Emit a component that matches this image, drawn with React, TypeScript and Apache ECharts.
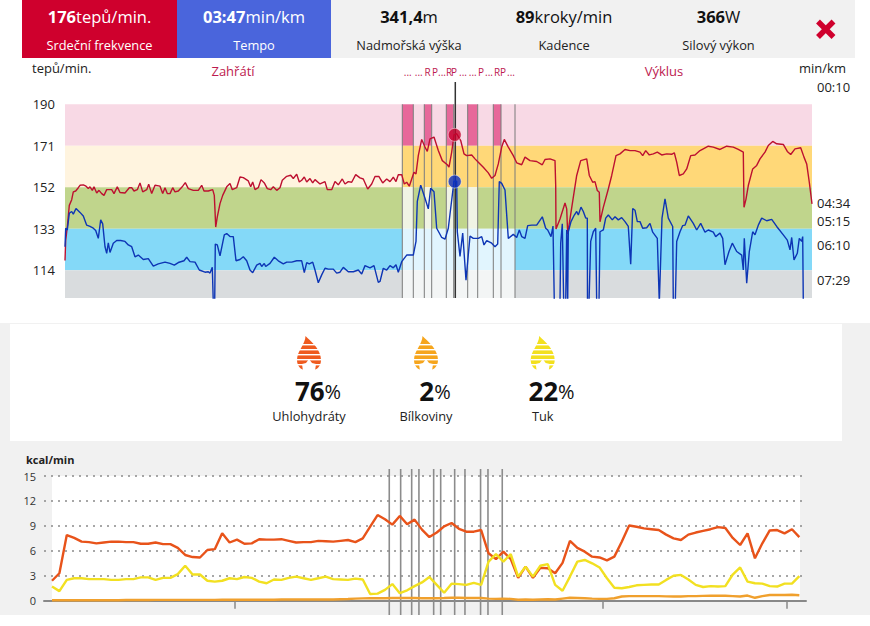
import React, { useEffect, useRef } from "react";
import * as echarts from "echarts";

const FONT = "Open Sans";

// ---------- upper chart ----------
const hrTicks = [190, 171, 152, 133, 114];
const paceTicks = [10, 274, 315, 370, 449];
const zoneLimits = [190, 171, 152, 133, 114, 101.3];
const lapEdges = [337.3, 348.3, 359.3, 366.7, 381.3, 388.7, 402.7, 412.7, 428.3, 436, 450];
const lapLabels = ["...", "...", "R", "P", "...", "R", "P", "...", "...", "P", "...", "R", "P", "..."];
const lapLabelX = [407.7, 418.7, 427.7, 435, 442, 449, 454, 463, 472.7, 481, 489, 497, 503, 511];
const cursorTime = 390.3;
const cursorHr = 176;
const cursorPace = 225;

const heartRate: number[][] = [
  [0, 118.5], [0.7, 127.7], [2.3, 133.8], [4.3, 143.7], [6.7, 146.3], [8.3, 149.9], [10.7, 150.3], [13.3, 151.8], [15, 152.9], [18.3, 153.1],
  [21, 152.5], [23.3, 151.4], [25, 152.2], [27.3, 150.6], [29, 152.2], [31.7, 149.4], [34, 150.6], [36.7, 149.1], [39, 148.3], [41.7, 150.9],
  [46.7, 150.9], [49, 149.1], [52.3, 152.2], [55, 149.6], [60, 149.4], [64.3, 151.8], [66.7, 151.8], [69, 150.3], [72.3, 150.9], [75, 154],
  [77.7, 149.9], [81.7, 150.9], [83.7, 153.4], [86.7, 149.1], [90, 152.9], [95, 152.5], [97.7, 149.1], [100, 151.8], [102.3, 149.1], [105, 149.1],
  [107.7, 151.8], [110, 149.9], [113.3, 150.3], [117.7, 152.5], [120.3, 154.1], [123.3, 151.4], [128.3, 150.6], [133.3, 150.6], [136.7, 152.9], [139, 150.3],
  [143.3, 150.3], [147.7, 150.9], [149.3, 148.3], [150, 141.4], [150.7, 133.8], [152.3, 138.4], [155, 144.5], [157.7, 148.3], [161.7, 152.2], [165, 153.7],
  [167.3, 150.9], [171.7, 151.8], [175, 156.7], [178.3, 156.4], [183.3, 154.9], [185.7, 152.2], [187.7, 154.4], [190, 150.9], [193.3, 151.8], [196, 155.5],
  [199.3, 154], [202.3, 151.4], [205.7, 150.9], [208.3, 152.2], [211.7, 150.6], [215, 151.8], [217.3, 155.2], [221.7, 157], [225.7, 157.5], [228.3, 156],
  [231.7, 158], [234.3, 154.4], [236.7, 155.2], [239.3, 156.7], [241.7, 154.4], [245, 156], [247.7, 154], [250, 155.5], [255, 153.5], [260, 154.6],
  [262.3, 150.9], [266.7, 150.9], [270, 154.6], [273.3, 153.1], [277.3, 155.8], [280, 153.5], [283.3, 154.6], [286.7, 154.3], [290.7, 157.8], [295, 156.3],
  [298.3, 155.8], [302.7, 151.2], [306.7, 153.5], [310, 156.9], [314, 156.9], [317.7, 154], [321.7, 155.8], [325, 154.6], [328.3, 156.6], [331, 154.6],
  [333.3, 157.7], [336.7, 157.8], [339.3, 153.5], [341.7, 154.3], [344.3, 152.5], [346.7, 155.8], [349, 158.9], [351, 158.1], [353.3, 166.5], [356.7, 173.9],
  [360, 170.4], [362.3, 168.4], [365, 174.2], [369, 175], [373.3, 168.8], [377.3, 164.2], [382.3, 162.3], [384, 161.2], [386.7, 168.1], [389, 176],
  [391.7, 176.5], [395.7, 173.4], [399, 167.3], [401.7, 166.5], [406.7, 166.8], [410, 165], [413.3, 163.5], [418.3, 161.2], [423.3, 158.6], [426.7, 156.1],
  [430, 157.4], [433.3, 162.7], [436.7, 170.4], [439.3, 173.9], [443.3, 170.4], [448.3, 166.5], [451.7, 163.2], [456.7, 162.3], [460, 165.8], [465, 164.2],
  [471.7, 163.8], [477.3, 162.3], [480, 164.7], [485, 165], [490, 164.2], [490.7, 152.8], [491, 132.9], [495, 137.5], [500, 144.8], [501.7, 142.1],
  [502.7, 130.6], [505, 137.5], [508.3, 147.4], [511.7, 157.4], [515.7, 164.2], [521.7, 165], [524.3, 157.4], [527.7, 154.3], [530, 154.6], [532.3, 150.5],
  [534.3, 149.7], [535, 136.2], [538.3, 142.8], [543.3, 151.2], [546.7, 157.4], [551, 166.5], [555, 167.3], [560, 169.3], [565, 168.8], [570, 168.8],
  [575, 168.1], [577.7, 166.5], [580.7, 168.8], [584.3, 166.8], [588.3, 167.3], [592.3, 168.1], [596.7, 166.8], [601.7, 167.3], [606.7, 167.1], [609.3, 167.8],
  [611.7, 163.5], [614.3, 157.4], [618.3, 158.1], [621.7, 160.4], [625.7, 166.5], [630, 166.8], [635, 168.8], [638.3, 169.6], [643.3, 170.8], [648.3, 170.4],
  [655, 169.3], [661.7, 170.8], [668.3, 170.4], [673.3, 169.3], [678.3, 168.1], [679, 142.8], [681, 146.6], [683.3, 152.8], [687.7, 160.4], [691.7, 162],
  [695, 165], [700, 168.1], [703.3, 171.1], [707.7, 173], [711.7, 171.9], [718.3, 171.6], [722.3, 168.4], [725.7, 167], [730, 169.6], [735.7, 170.1],
  [739, 165.8], [741.7, 162.7], [744.3, 154.3], [747, 144.4],
];

const pace: number[][] = [
  [0, 373], [0.7, 331], [2.3, 335], [4.3, 297], [6.7, 293], [8.3, 299], [11, 286], [15, 295], [18.3, 303], [21.7, 324],
  [25, 327], [28.3, 331], [30.7, 336], [33.3, 354], [35.7, 312], [37.7, 321], [40, 373], [41.7, 388], [43.3, 364], [45, 386],
  [48.3, 365], [51.7, 359], [55.7, 359], [60, 361], [63.3, 369], [66.7, 373], [70, 396], [73.3, 392], [78.3, 402], [83.3, 400],
  [88.3, 417], [93.3, 412], [100, 408], [105, 411], [109.3, 415], [113.3, 409], [119, 405], [121.7, 397], [125, 407], [130, 408],
  [134.3, 426], [140, 431], [143.3, 430], [145, 433], [147.3, 420], [148.3, 500], [149.7, 500], [150.3, 367], [152.3, 369], [155, 394],
  [159.3, 346], [161.7, 343], [165, 350], [168.3, 350], [171, 405], [175, 402], [178.3, 396], [181.7, 405], [185, 426], [187.7, 432],
  [191.7, 415], [195, 411], [196.7, 418], [199.3, 411], [200.7, 418], [205, 411], [209.3, 397], [213.3, 405], [218.3, 412], [221.7, 408],
  [226.7, 408], [231.7, 405], [236.7, 405], [239.3, 432], [241.7, 409], [244.3, 412], [247.7, 408], [250, 426], [253.3, 455], [256.7, 437],
  [260, 422], [263.3, 424], [268.3, 424], [271.7, 433], [275, 431], [278.3, 420], [283.3, 430], [288.3, 430], [293.3, 426], [296.7, 435],
  [300, 416], [305, 421], [309, 416], [313.3, 454], [315, 452], [318.3, 422], [321.7, 426], [325, 416], [328.3, 421], [331, 414],
  [333.3, 431], [336.7, 407], [341.7, 392], [348.3, 392], [351, 361], [352.3, 270], [355.7, 233], [360, 263], [363.3, 287], [365.7, 240],
  [369, 248], [371.7, 331], [376.7, 352], [380, 356], [383.3, 331], [387.7, 248], [389, 224], [391.7, 224], [392.3, 339], [395, 395],
  [397.7, 342], [401, 449], [405, 349], [408.3, 354], [413.3, 354], [416.7, 350], [419, 369], [421.7, 359], [426.7, 365], [430, 373],
  [432.7, 367], [434.3, 225], [436.7, 229], [440, 244], [443.3, 354], [448.3, 345], [451.7, 352], [454.3, 335], [456.7, 350], [460, 354],
  [462.7, 325], [466.7, 324], [471.7, 324], [477.3, 305], [480.7, 331], [482.7, 335], [486, 350], [488, 326], [489.3, 500], [495, 500],
  [495.7, 365], [497.3, 321], [498.7, 500], [500.7, 500], [501.7, 335], [502.7, 500], [503.3, 339], [506, 316], [509.3, 301], [511.7, 293],
  [513.3, 301], [516, 283], [518.3, 293], [520.7, 308], [522.3, 308], [522.5, 500], [524, 500], [525.7, 361], [528.3, 339], [530.7, 331],
  [531.7, 500], [534, 500], [535, 339], [538.3, 335], [540.7, 308], [543.3, 301], [547.3, 312], [550, 305], [553.3, 312], [556.7, 307],
  [560, 316], [563.3, 327], [565.7, 413], [567.7, 286], [570, 290], [572.3, 316], [575, 316], [577.7, 331], [581.7, 330], [585, 320],
  [587.7, 340], [592.3, 354], [594.3, 500], [595, 500], [597, 308], [600, 264], [603.3, 308], [607.7, 327], [608.3, 500], [610.3, 500],
  [611.7, 361], [615, 339], [617.7, 325], [620, 324], [623.3, 303], [628.3, 320], [631.7, 335], [635.7, 320], [640, 340], [643.3, 335],
  [648.3, 340], [650.7, 350], [655, 342], [657.7, 354], [660, 414], [664, 384], [667.3, 365], [671.7, 384], [676.7, 392], [678.3, 426],
  [679.3, 354], [681.7, 456], [684.3, 384], [687.7, 339], [690, 346], [693.3, 324], [696.7, 308], [701.7, 314], [706.7, 311], [711.7, 327],
  [718.3, 346], [722.3, 358], [725, 380], [726.7, 352], [729, 403], [732.3, 388], [734.3, 354], [736.7, 361], [737.7, 350], [738.3, 500],
];

// ---------- lower chart ----------
const carbs = [
  2.4, 3.3, 7.9, 7.55, 7.1, 7.05, 6.9, 7, 7.1, 7.1, 7.05, 7.05, 6.85, 6.85, 7, 6.8, 6.8, 6.35, 5.5, 5.25,
  5.2, 6.1, 6.2, 8.1, 7, 7.35, 6.85, 6.9, 7.4, 7.35, 7.35, 7.4, 7.2, 7, 7.05, 7.05, 7.2, 7.15, 7.1, 7.2,
  7.3, 7.05, 7.5, 8.9, 10.3, 9.8, 9.15, 10.2, 9.2, 9.75, 8.55, 7.65, 8.2, 8.95, 9.35, 8.65, 8.3, 8.3, 8.5, 5.7,
  5, 5.9, 5, 2.75, 4.1, 2.75, 3.95, 3.9, 3.3, 4.55, 7.2, 6.35, 5.9, 5.3, 5.2, 4.85, 5.3, 7.1, 9.05, 8.9,
  8.7, 8.6, 8.5, 7.95, 7.5, 7.3, 7.95, 8.2, 8.4, 8.6, 8.85, 8.75, 7.55, 6.7, 8.1, 5.1, 6.9, 8.45, 8.5, 8.1,
  8.6, 7.65,
];
const fat = [
  1.7, 1.15, 2.5, 2.7, 2.7, 2.6, 2.6, 2.6, 2.5, 2.5, 2.6, 2.6, 2.8, 2.8, 2.5, 2.75, 2.75, 3.2, 4.2, 3.15,
  3.15, 2.4, 2.3, 2.4, 2.7, 2.6, 2.85, 2.75, 2.3, 2.1, 2.55, 2.5, 2.75, 2.9, 2.7, 2.5, 2.7, 2.9, 2.6, 2.55,
  2.5, 2.65, 2.55, 0.8, 0.85, 1.3, 2, 0.9, 1.25, 1.75, 2.2, 2.85, 1.9, 0.95, 2.05, 2, 1.9, 2.15, 1.9, 4.7,
  5.6, 4.7, 5.6, 2.9, 4.1, 2.9, 4.2, 4.4, 1.9, 1.2, 2.9, 4.7, 4.9, 4.5, 4, 2.7, 1.55, 1.5, 1.65, 1.85,
  1.9, 1.95, 1.95, 2.5, 3, 3.1, 2.55, 1.9, 1.65, 1.75, 1.7, 1.75, 3.15, 4, 2.3, 2.1, 2.05, 1.75, 1.7, 2.05,
  2.05, 2.95,
];
const protein = [
  0.05, 0.05, 0.05, 0.05, 0.05, 0.05, 0.05, 0.05, 0.05, 0.05, 0.08, 0.08, 0.08, 0.08, 0.1, 0.1, 0.1, 0.1, 0.1, 0.1,
  0.1, 0.1, 0.1, 0.12, 0.12, 0.12, 0.12, 0.12, 0.12, 0.12, 0.12, 0.14, 0.14, 0.14, 0.15, 0.15, 0.15, 0.15, 0.15, 0.18,
  0.2, 0.25, 0.28, 0.3, 0.3, 0.3, 0.32, 0.32, 0.32, 0.32, 0.3, 0.3, 0.3, 0.32, 0.35, 0.35, 0.33, 0.33, 0.33, 0.25,
  0.22, 0.25, 0.22, 0.12, 0.15, 0.12, 0.15, 0.17, 0.15, 0.25, 0.35, 0.33, 0.3, 0.25, 0.22, 0.22, 0.3, 0.5, 0.55, 0.55,
  0.55, 0.55, 0.55, 0.52, 0.5, 0.5, 0.55, 0.55, 0.58, 0.6, 0.6, 0.6, 0.55, 0.5, 0.62, 0.35, 0.55, 0.68, 0.68, 0.68,
  0.72, 0.66,
];
const kcalTicks = [24.7, 74.46, 99.3];
const kcalLapEdges = [45.58, 47.12, 48.61, 49.59, 51.58, 52.53, 54.42, 55.81, 57.92, 58.92, 60.85];

// ---------- header and macros ----------
const headerValues = ["176", "03:47", "341,4", "89", "366"];
const headerUnits = ["tepů/min.", "min/km", "m", "kroky/min", "W"];
const headerLabels = ["Srdeční frekvence", "Tempo", "Nadmořská výška", "Kadence", "Silový výkon"];
const macroValues = ["76", "2", "22"];
const macroLabels = ["Uhlohydráty", "Bílkoviny", "Tuk"];

const RED = "#cf002d";
const BLUE = "#4a65dc";
const PINK = "#f8d9e5";
const PINK_DARK = "#e7689a";
const CREAM = "#fff4df";
const ORANGE = "#ffd878";
const GREEN = "#c0d58c";
const GREEN_LIGHT = "#f0f4e4";
const SKY = "#84d9f8";
const SKY_LIGHT = "#e1f5fe";
const GREY = "#d9dcde";
const GREY_LIGHT = "#f3f5f5";
const CRIMSON = "#bd1a4f";

const XMAX = 747;
const segEdges = [0, ...lapEdges, XMAX];

function zoneFill(zone: number, seg: number) {
  const lap = seg - 1; // -1 before the laps, 10 after them
  const inLaps = lap >= 0 && lap < 10;
  const fast = inLaps && lap % 2 === 0;
  if (zone === 0) return fast ? PINK_DARK : PINK;
  if (zone === 1) return lap < 0 ? CREAM : ORANGE;
  if (zone === 2) return fast && lap <= 6 ? GREEN_LIGHT : GREEN;
  if (zone === 3) return inLaps ? SKY_LIGHT : SKY;
  return inLaps ? GREY_LIGHT : GREY;
}

const bandRows: number[][] = [];
const bandFills: string[] = [];
for (let z = 0; z < 5; z++) {
  for (let s = 0; s < segEdges.length - 1; s++) {
    bandRows.push([segEdges[s], segEdges[s + 1], zoneLimits[z], zoneLimits[z + 1]]);
    bandFills.push(zoneFill(z, s));
  }
}

const mmss = (v: number) => {
  const m = Math.floor(v / 60);
  const s = Math.round(v - m * 60);
  return `${String(m).padStart(2, "0")}:${String(s).padStart(2, "0")}`;
};

function txt(x: number, y: number, text: string, size: number, color: string, align = "center", weight: any = "normal") {
  return {
    type: "text",
    x,
    y,
    z: 5,
    silent: true,
    style: {
      text,
      fill: color,
      fontFamily: FONT,
      fontSize: size,
      fontWeight: weight,
      textAlign: align,
      textVerticalAlign: "middle",
    },
  };
}

function rect(x: number, y: number, w: number, h: number, fill: string) {
  return { type: "rect", z: 0, silent: true, shape: { x, y, width: w, height: h }, style: { fill } };
}

function rich(x: number, y: number, value: string, unit: string, color: string, sv: number, su: number) {
  return {
    type: "text",
    x,
    y,
    z: 5,
    silent: true,
    style: {
      text: `{a|${value}}{b|${unit}}`,
      textAlign: "center",
      textVerticalAlign: "middle",
      rich: {
        a: { fontFamily: FONT, fontSize: sv, fontWeight: "bold", fill: color, color },
        b: { fontFamily: FONT, fontSize: su, fill: color, color },
      },
    },
  };
}

function flame(x: number, y: number, color: string) {
  const stripes = [8, 13, 18, 23, 28].map((sy) => ({
    type: "rect",
    silent: true,
    z: 3,
    shape: { x: 0, y: sy, width: 25, height: 1.4 },
    style: { fill: "#ffffff" },
  }));
  return {
    type: "group",
    x,
    y,
    children: [
      { type: "flameShape", silent: true, z: 2, style: { fill: color } },
      ...stripes,
      {
        type: "polygon",
        silent: true,
        z: 3,
        shape: { points: [[12, 23], [15, 27], [19, 28], [18, 35], [6, 35], [5, 28], [9, 27]] },
        style: { fill: "#ffffff" },
      },
    ],
  };
}

export default function App() {
  const ref = useRef<HTMLDivElement>(null);
  useEffect(() => {
    document.body.style.margin = "0";
    echarts.graphic.registerShape(
      "flameShape",
      echarts.graphic.extendPath(
        "M8.5 0 L11 2.5 C15 6 24 14 24 24 C24 30 20 34 16 34 L8 34 C4 34 0 30 0 24 C0 15 8.5 8 8.5 0 Z",
        {},
      ),
    );
    const chart = echarts.init(ref.current!, undefined, { renderer: "svg" });

    const headerCenters = [99.5, 254, 409, 564, 718.5];
    const macroCenters = [309, 426, 542.7];
    const macroValueCenters = [318, 435, 551.5];
    const macroFlames = ["#ef5a1e", "#f6a51c", "#f3e01e"];
    const graphicEls: any[] = [
      rect(22, 0, 833, 58, "#f1f1f1"),
      rect(22, 0, 155, 58, RED),
      rect(177, 0, 154, 58, BLUE),
      rect(0, 323, 870, 292, "#f1f1f1"),
      rect(10, 324, 832, 117, "#ffffff"),
      rect(52, 476, 748, 125, "#ffffff"),
      { type: "line", z: 5, silent: true, shape: { x1: 818, y1: 21.5, x2: 833.5, y2: 37 }, style: { stroke: RED, lineWidth: 5.5 } },
      { type: "line", z: 5, silent: true, shape: { x1: 833.5, y1: 21.5, x2: 818, y2: 37 }, style: { stroke: RED, lineWidth: 5.5 } },
      txt(32, 68, "tepů/min.", 13, "#222222", "left"),
      txt(799, 68, "min/km", 13, "#222222", "left"),
      txt(233, 70.5, "Zahřátí", 13, CRIMSON),
      txt(664, 70.5, "Výklus", 13, CRIMSON),
      txt(26, 459, "kcal/min", 11, "#222222", "left", "bold"),
    ];
    headerValues.forEach((v, i) => {
      const c = i < 2 ? "#ffffff" : "#111111";
      graphicEls.push(rich(headerCenters[i], 16, v, headerUnits[i], c, 16.5, 16.5));
      graphicEls.push(txt(headerCenters[i], 44.5, headerLabels[i], 12.8, i < 2 ? "#ffffff" : "#222222"));
    });
    lapLabels.forEach((t, i) => graphicEls.push(txt(lapLabelX[i], 71.5, t, 10, CRIMSON)));
    macroValues.forEach((v, i) => {
      graphicEls.push(flame(macroCenters[i] - 12, 336, macroFlames[i]));
      graphicEls.push(rich(macroValueCenters[i], 391, v, "%", "#111111", 26, 20));
      graphicEls.push(txt(macroCenters[i], 416, macroLabels[i], 12.8, "#222222"));
    });

    chart.setOption({
      animation: false,
      textStyle: { fontFamily: FONT },
      graphic: { elements: graphicEls },
      grid: [
        { left: 65, top: 82, width: XMAX, height: 216 },
        { left: 44, top: 476, width: 762, height: 124.7 },
      ],
      xAxis: [
        { type: "value", gridIndex: 0, min: 0, max: XMAX, show: false },
        {
          type: "value",
          gridIndex: 1,
          min: -1.08,
          max: 101.9,
          axisLine: { show: true, onZero: false, lineStyle: { color: "#888888", width: 2 } },
          axisTick: { show: true, customValues: kcalTicks, length: 8, lineStyle: { color: "#888888", width: 1.5 } },
          axisLabel: { show: false },
          splitLine: { show: false },
        },
      ],
      yAxis: [
        {
          type: "value",
          gridIndex: 0,
          min: 101.3,
          max: 200.2,
          axisLine: { show: false },
          axisTick: { show: false, customValues: hrTicks },
          splitLine: { show: false },
          axisLabel: { customValues: hrTicks, margin: 10, fontSize: 13, color: "#222222", fontFamily: FONT },
        },
        {
          type: "value",
          gridIndex: 0,
          position: "right",
          inverse: true,
          min: -1.4,
          max: 489.6,
          axisLine: { show: false },
          axisTick: { show: false, customValues: paceTicks },
          splitLine: { show: false },
          axisLabel: { customValues: paceTicks, margin: 5, fontSize: 13, color: "#222222", fontFamily: FONT, formatter: (v: number) => mmss(v) },
        },
        {
          type: "value",
          gridIndex: 1,
          min: 0,
          max: 15,
          interval: 3,
          axisLine: { show: false },
          axisTick: { show: false },
          axisLabel: { margin: 8, fontSize: 11, color: "#333333", fontFamily: FONT },
          splitLine: { show: true, lineStyle: { color: "#8a8a8a", width: 1.5, type: [2, 5] } },
        },
      ],
      series: [
        {
          type: "custom",
          xAxisIndex: 0,
          yAxisIndex: 0,
          z: 1,
          silent: true,
          data: bandRows,
          renderItem: (p: any, api: any) => {
            const a = api.coord([api.value(0), api.value(2)]);
            const b = api.coord([api.value(1), api.value(3)]);
            return {
              type: "rect",
              shape: { x: a[0], y: a[1], width: b[0] - a[0], height: b[1] - a[1] },
              style: { fill: bandFills[p.dataIndex], stroke: null },
            };
          },
        },
        {
          type: "custom",
          xAxisIndex: 0,
          yAxisIndex: 0,
          z: 2,
          silent: true,
          data: lapEdges.map((x) => [x]),
          renderItem: (_p: any, api: any) => {
            const a = api.coord([api.value(0), 190]);
            const b = api.coord([api.value(0), 101.3]);
            return { type: "line", shape: { x1: a[0], y1: a[1], x2: b[0], y2: b[1] }, style: { stroke: "#7a7a7a", lineWidth: 1 } };
          },
        },
        {
          type: "custom",
          xAxisIndex: 0,
          yAxisIndex: 0,
          z: 3,
          silent: true,
          data: [[cursorTime]],
          renderItem: (_p: any, api: any) => {
            const a = api.coord([api.value(0), 200.2]);
            const b = api.coord([api.value(0), 101.3]);
            return { type: "line", shape: { x1: a[0], y1: a[1], x2: b[0], y2: b[1] }, style: { stroke: "#333333", lineWidth: 1.5 } };
          },
        },
        {
          type: "line",
          name: "Srdeční frekvence",
          xAxisIndex: 0,
          yAxisIndex: 0,
          z: 4,
          data: heartRate,
          showSymbol: false,
          symbol: "none",
          lineStyle: { color: "#bd1030", width: 1.4 },
        },
        {
          type: "line",
          name: "Tempo",
          xAxisIndex: 0,
          yAxisIndex: 1,
          z: 4,
          data: pace,
          showSymbol: false,
          symbol: "none",
          clip: true,
          lineStyle: { color: "#0d35b5", width: 1.4 },
        },
        {
          type: "scatter",
          xAxisIndex: 0,
          yAxisIndex: 0,
          z: 6,
          data: [[cursorTime - 0.6, cursorHr]],
          symbolSize: 13,
          itemStyle: { color: "#c4002c", borderColor: "rgba(255,255,255,0.6)", borderWidth: 1 },
        },
        {
          type: "scatter",
          xAxisIndex: 0,
          yAxisIndex: 1,
          z: 6,
          data: [[cursorTime - 0.6, cursorPace]],
          symbolSize: 13,
          itemStyle: { color: "#0a30c4", borderColor: "rgba(255,255,255,0.6)", borderWidth: 1 },
        },
        {
          type: "custom",
          xAxisIndex: 1,
          yAxisIndex: 2,
          z: 2,
          silent: true,
          data: kcalLapEdges.map((x) => [x]),
          renderItem: (_p: any, api: any) => {
            const a = api.coord([api.value(0), 15.84]);
            const b = api.coord([api.value(0), -1.72]);
            return { type: "line", shape: { x1: a[0], y1: a[1], x2: b[0], y2: b[1] }, style: { stroke: "#8c8c8c", lineWidth: 1.6 } };
          },
        },
        {
          type: "line",
          name: "Uhlohydráty",
          xAxisIndex: 1,
          yAxisIndex: 2,
          z: 4,
          data: carbs.map((v, i) => [i, v]),
          symbol: "none",
          lineStyle: { color: "#e8531a", width: 2.4 },
        },
        {
          type: "line",
          name: "Tuk",
          xAxisIndex: 1,
          yAxisIndex: 2,
          z: 4,
          data: fat.map((v, i) => [i, v]),
          symbol: "none",
          lineStyle: { color: "#f2e021", width: 2.4 },
        },
        {
          type: "line",
          name: "Bílkoviny",
          xAxisIndex: 1,
          yAxisIndex: 2,
          z: 4,
          data: protein.map((v, i) => [i, v]),
          symbol: "none",
          lineStyle: { color: "#f0a02d", width: 2.4 },
        },
      ],
    });
    return () => chart.dispose();
  }, []);
  return <div ref={ref} style={{ position: "absolute", left: 0, top: 0, width: 870, height: 626, background: "#ffffff" }} />;
}
